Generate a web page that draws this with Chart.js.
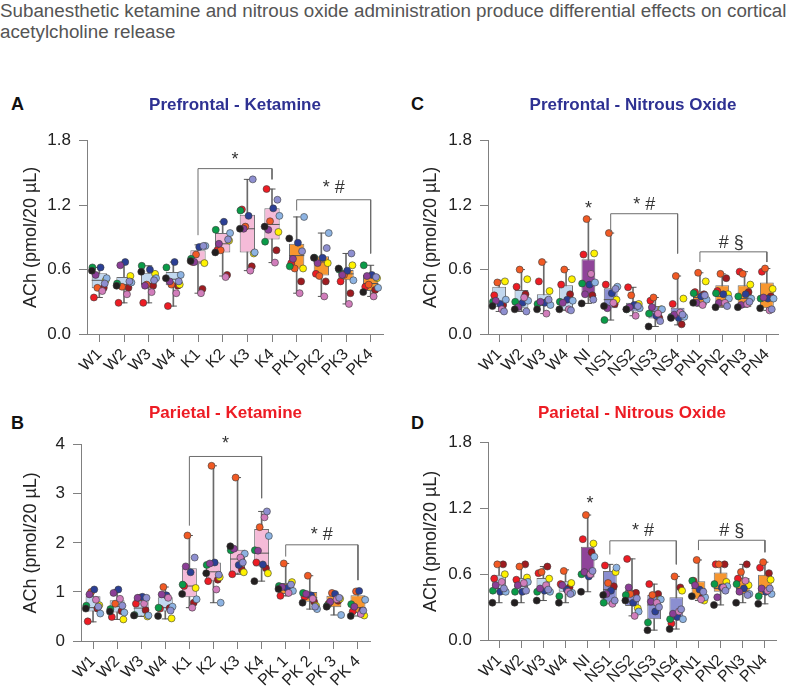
<!DOCTYPE html>
<html>
<head>
<meta charset="utf-8">
<script src="https://cdn.jsdelivr.net/npm/chart.js@4.4.0/dist/chart.umd.min.js"></script>
<style>
  body { margin: 0; background: #fff; width: 800px; height: 691px; position: relative; overflow: hidden; font-family: "Liberation Sans", Arial, sans-serif; }
  #heading { position: absolute; left: 0; top: 0; font-size: 18.8px; line-height: 21px; color: #555; white-space: nowrap; }
  .letter { position: absolute; font-weight: bold; font-size: 18px; color: #111; }
  canvas { position: absolute; }
</style>
</head>
<body>
<div id="heading">Subanesthetic ketamine and nitrous oxide administration produce differential effects on cortical<br>acetylcholine release</div>
<div class="letter" style="left:11px;top:94px">A</div>
<div class="letter" style="left:411px;top:94px">C</div>
<div class="letter" style="left:11px;top:413px">B</div>
<div class="letter" style="left:411px;top:413px">D</div>
<canvas id="chartA" width="400" height="310" style="left:0;top:80px"></canvas>
<canvas id="chartC" width="400" height="310" style="left:400px;top:80px"></canvas>
<canvas id="chartB" width="400" height="306" style="left:0;top:385px"></canvas>
<canvas id="chartD" width="400" height="306" style="left:400px;top:385px"></canvas>
<script>
// animals: red, dark red, orange, yellow, green, navy, light blue, purple, orchid, black, lavender
const animalColors = ['#ed1c24', '#9e1b20', '#f15a24', '#fff200', '#0a9b48', '#2b3f95', '#8db3e2', '#8b3e96', '#d17dbb', '#231f20', '#8e8fd0'];
const jitter = [-0.22, 0.18, -0.08, 0.26, -0.28, 0.05, 0.3, -0.15, 0.12, -0.3, 0.22];

const ketLabels = ['W1', 'W2', 'W3', 'W4', 'K1', 'K2', 'K3', 'K4', 'PK1', 'PK2', 'PK3', 'PK4'];
const ketLabelsB = ['W1', 'W2', 'W3', 'W4', 'K1', 'K2', 'K3', 'K4', 'PK 1', 'PK 2', 'PK 3', 'PK 4'];
const noxLabels = ['W1', 'W2', 'W3', 'W4', 'NI', 'NS1', 'NS2', 'NS3', 'NS4', 'PN1', 'PN2', 'PN3', 'PN4'];

// A - prefrontal ketamine
const pfkMin = [0.34, 0.29, 0.29, 0.26, 0.38, 0.54, 0.59, 0.665, 0.38, 0.35, 0.28, 0.35];
const pfkQ1  = [0.425, 0.435, 0.455, 0.455, 0.65, 0.76, 0.76, 0.88, 0.61, 0.545, 0.50, 0.40];
const pfkMed = [0.50, 0.46, 0.47, 0.51, 0.67, 0.84, 0.98, 1.02, 0.73, 0.67, 0.56, 0.47];
const pfkQ3  = [0.565, 0.53, 0.57, 0.577, 0.78, 0.94, 1.11, 1.17, 0.84, 0.725, 0.595, 0.55];
const pfkMax = [0.62, 0.67, 0.635, 0.67, 0.83, 1.045, 1.44, 1.35, 1.09, 0.94, 0.75, 0.64];
const pfkPts = [
  [0.34, 0.43, 0.43, 0.50, 0.62, 0.62, 0.52, 0.55, 0.40, 0.59, 0.47],
  [0.29, 0.43, 0.44, 0.54, 0.47, 0.67, 0.48, 0.64, 0.37, 0.45, 0.49],
  [0.29, 0.45, 0.46, 0.56, 0.635, 0.60, 0.52, 0.45, 0.39, 0.58, 0.50],
  [0.26, 0.45, 0.46, 0.46, 0.62, 0.67, 0.55, 0.49, 0.38, 0.52, 0.49],
  [0.67, 0.42, 0.74, 0.66, 0.70, 0.81, 0.82, 0.67, 0.38, 0.68, 0.82],
  [0.78, 0.55, 0.78, 0.87, 0.97, 1.045, 0.94, 0.84, 0.53, 0.76, 0.88],
  [1.16, 0.63, 1.00, 0.75, 1.15, 1.10, 0.76, 0.98, 0.59, 0.98, 1.44],
  [1.35, 0.78, 1.05, 0.95, 0.86, 1.17, 1.10, 0.97, 0.665, 1.00, 1.25],
  [0.66, 0.49, 0.61, 0.61, 0.63, 0.85, 1.09, 0.70, 0.38, 0.89, 0.77],
  [0.56, 0.49, 0.54, 0.66, 0.71, 0.71, 0.94, 0.66, 0.35, 0.71, 0.80],
  [0.49, 0.38, 0.55, 0.64, 0.60, 0.59, 0.50, 0.55, 0.28, 0.61, 0.75],
  [0.44, 0.41, 0.46, 0.52, 0.64, 0.55, 0.43, 0.54, 0.35, 0.39, 0.53]
];
const pfkBrackets = [[4, 7, 0.92, 1.54, 1.44], [8, 11, 1.15, 1.25, 0.75]];
const pfkNotes = [[5.5, 1.65, '*'], [9.5, 1.385, '* #']];

// C - prefrontal nitrous oxide
const pfnMin = [0.21, 0.21, 0.19, 0.22, 0.285, 0.13, 0.17, 0.07, 0.085, 0.26, 0.25, 0.25, 0.22];
const pfnQ1  = [0.25, 0.24, 0.26, 0.225, 0.37, 0.24, 0.21, 0.145, 0.145, 0.27, 0.25, 0.25, 0.24];
const pfnMed = [0.30, 0.30, 0.30, 0.30, 0.47, 0.32, 0.25, 0.21, 0.18, 0.34, 0.35, 0.33, 0.33];
const pfnQ3  = [0.44, 0.41, 0.37, 0.455, 0.695, 0.425, 0.29, 0.26, 0.245, 0.395, 0.455, 0.455, 0.48];
const pfnMax = [0.50, 0.60, 0.67, 0.60, 1.07, 0.94, 0.435, 0.34, 0.54, 0.57, 0.56, 0.58, 0.61];
const pfnPts = [
  [0.36, 0.27, 0.48, 0.49, 0.30, 0.28, 0.32, 0.31, 0.23, 0.26, 0.21],
  [0.44, 0.37, 0.60, 0.51, 0.30, 0.29, 0.31, 0.25, 0.34, 0.23, 0.21],
  [0.49, 0.31, 0.67, 0.40, 0.28, 0.29, 0.27, 0.30, 0.19, 0.23, 0.32],
  [0.46, 0.37, 0.60, 0.51, 0.30, 0.32, 0.31, 0.29, 0.23, 0.23, 0.22],
  [0.74, 0.36, 1.07, 0.75, 0.47, 0.46, 0.48, 0.37, 0.56, 0.285, 0.32],
  [0.46, 0.28, 0.94, 0.32, 0.13, 0.38, 0.44, 0.24, 0.29, 0.26, 0.42],
  [0.435, 0.27, 0.36, 0.28, 0.23, 0.27, 0.24, 0.25, 0.17, 0.23, 0.26],
  [0.31, 0.15, 0.34, 0.23, 0.19, 0.17, 0.23, 0.25, 0.19, 0.07, 0.12],
  [0.28, 0.09, 0.54, 0.33, 0.16, 0.15, 0.16, 0.18, 0.20, 0.15, 0.18],
  [0.39, 0.37, 0.57, 0.49, 0.38, 0.35, 0.32, 0.29, 0.27, 0.29, 0.36],
  [0.40, 0.52, 0.56, 0.37, 0.38, 0.37, 0.33, 0.29, 0.29, 0.25, 0.26],
  [0.58, 0.39, 0.56, 0.46, 0.35, 0.37, 0.33, 0.27, 0.28, 0.25, 0.30],
  [0.58, 0.35, 0.61, 0.42, 0.33, 0.33, 0.33, 0.34, 0.22, 0.24, 0.23]
];
const pfnBrackets = [[5, 8, 0.95, 1.12, 0.75], [9, 12, 0.67, 0.765, 0.67]];
const pfnNotes = [[4, 1.19, '*'], [6.5, 1.23, '* #'], [10.4, 0.875, '# §']];

// B - parietal ketamine
const pakMin = [0.39, 0.44, 0.50, 0.45, 0.68, 0.78, 1.36, 1.22, 0.92, 0.65, 0.53, 0.51];
const pakQ1  = [0.60, 0.58, 0.50, 0.60, 0.89, 1.22, 1.37, 1.52, 0.96, 0.80, 0.69, 0.57];
const pakMed = [0.68, 0.70, 0.67, 0.68, 1.12, 1.41, 1.67, 1.79, 1.06, 0.88, 0.80, 0.68];
const pakQ3  = [0.91, 0.83, 0.87, 0.89, 1.48, 1.60, 1.86, 2.28, 1.18, 1.00, 0.92, 0.93];
const pakMax = [1.05, 1.05, 0.91, 1.10, 2.15, 3.57, 3.33, 2.64, 1.58, 1.33, 0.99, 1.02];
const pakPts = [
  [0.40, 0.66, 1.00, 0.73, 0.72, 1.05, 0.56, 0.95, 0.84, 0.66, 0.70],
  [0.49, 0.61, 0.76, 0.44, 0.65, 1.05, 0.58, 0.98, 0.86, 0.60, 0.72],
  [0.76, 0.63, 0.88, 0.50, 0.53, 0.90, 0.52, 0.88, 0.76, 0.52, 0.88],
  [0.66, 0.67, 1.10, 0.46, 0.68, 0.93, 0.70, 0.95, 0.88, 0.51, 0.62],
  [1.12, 0.78, 2.15, 1.08, 1.15, 1.40, 0.85, 1.52, 0.68, 0.96, 1.70],
  [1.22, 1.25, 3.57, 1.30, 1.55, 1.60, 0.78, 1.58, 1.05, 1.38, 1.35],
  [1.36, 1.45, 3.33, 1.40, 1.85, 1.55, 1.78, 1.88, 1.70, 1.93, 1.60],
  [1.60, 1.48, 2.32, 1.38, 1.85, 1.56, 2.14, 1.84, 2.52, 1.22, 2.64],
  [0.92, 1.05, 1.58, 1.20, 1.12, 1.08, 1.02, 1.10, 0.98, 1.06, 1.15],
  [0.90, 0.80, 1.33, 0.72, 0.98, 0.93, 0.65, 0.96, 0.86, 0.78, 0.70],
  [0.76, 0.82, 0.98, 0.86, 0.72, 0.96, 0.53, 0.80, 0.85, 0.70, 0.88],
  [0.60, 0.62, 1.01, 0.52, 0.75, 1.02, 0.84, 0.70, 0.55, 0.51, 0.62]
];
const pakBrackets = [[4, 7, 2.35, 3.76, 2.91], [8, 11, 1.72, 1.96, 1.24]];
const pakNotes = [[5.5, 4.07, '*'], [9.5, 2.23, '* #']];

// D - parietal nitrous oxide
const panMin = [0.34, 0.34, 0.36, 0.34, 0.44, 0.33, 0.22, 0.09, 0.10, 0.36, 0.32, 0.34, 0.33];
const panQ1  = [0.44, 0.44, 0.44, 0.44, 0.57, 0.34, 0.31, 0.19, 0.18, 0.37, 0.44, 0.42, 0.41];
const panMed = [0.47, 0.49, 0.46, 0.48, 0.62, 0.46, 0.35, 0.32, 0.20, 0.47, 0.47, 0.47, 0.47];
const panQ3  = [0.595, 0.565, 0.565, 0.535, 0.85, 0.63, 0.457, 0.41, 0.39, 0.535, 0.615, 0.565, 0.595];
const panMax = [0.69, 0.69, 0.67, 0.64, 1.14, 0.69, 0.74, 0.51, 0.58, 0.73, 0.69, 0.69, 0.71];
const panPts = [
  [0.56, 0.69, 0.69, 0.60, 0.45, 0.44, 0.44, 0.50, 0.53, 0.34, 0.47],
  [0.55, 0.69, 0.67, 0.57, 0.44, 0.44, 0.53, 0.50, 0.52, 0.34, 0.45],
  [0.61, 0.67, 0.62, 0.56, 0.44, 0.45, 0.44, 0.47, 0.50, 0.36, 0.46],
  [0.51, 0.48, 0.63, 0.52, 0.40, 0.46, 0.43, 0.50, 0.44, 0.34, 0.42],
  [0.92, 0.80, 1.14, 0.88, 0.60, 0.58, 0.76, 0.62, 0.60, 0.44, 0.63],
  [0.68, 0.49, 0.52, 0.62, 0.34, 0.45, 0.66, 0.42, 0.33, 0.41, 0.36],
  [0.74, 0.43, 0.42, 0.29, 0.41, 0.34, 0.26, 0.48, 0.22, 0.36, 0.38],
  [0.51, 0.42, 0.41, 0.37, 0.16, 0.26, 0.37, 0.35, 0.34, 0.09, 0.30],
  [0.15, 0.48, 0.58, 0.45, 0.19, 0.21, 0.19, 0.24, 0.26, 0.10, 0.28],
  [0.54, 0.39, 0.73, 0.36, 0.54, 0.46, 0.39, 0.50, 0.37, 0.40, 0.44],
  [0.69, 0.69, 0.69, 0.53, 0.51, 0.48, 0.49, 0.39, 0.48, 0.32, 0.45],
  [0.56, 0.69, 0.62, 0.50, 0.51, 0.47, 0.42, 0.44, 0.54, 0.34, 0.41],
  [0.66, 0.61, 0.71, 0.55, 0.40, 0.44, 0.42, 0.47, 0.45, 0.33, 0.47]
];
const panBrackets = [[5, 8, 0.78, 0.905, 0.69], [9, 12, 0.82, 0.91, 0.80]];
const panNotes = [[4.1, 1.27, '*'], [6.5, 1.02, '* #'], [10.5, 1.02, '# §']];

const family = '"Liberation Sans", Arial, Helvetica, sans-serif';
Chart.defaults.font.family = family;

function boxColor(label) {
  if (label.startsWith('W')) return '#c2d8ef';
  if (label.startsWith('PK') || label.startsWith('PN')) return '#f7962f';
  if (label.startsWith('K')) return '#f5bbd8';
  if (label === 'NI') return '#8f4499';
  return '#8b8fd1';
}

// significance marks, placed in data units
const notesPlugin = {
  id: 'notes',
  afterDatasetsDraw(chart, args, opts) {
    const ctx = chart.ctx;
    const xs = chart.scales.xj, ys = chart.scales.y;
    ctx.save();
    ctx.font = '18px ' + family;
    ctx.fillStyle = '#333';
    ctx.textAlign = 'center';
    ctx.textBaseline = 'middle';
    opts.items.forEach(function(n) {
      ctx.fillText(n[2], xs.getPixelForValue(n[0]), ys.getPixelForValue(n[1]) + 3);
    });
    ctx.restore();
  }
};

function drawPanel(id, labels, mins, q1s, meds, q3s, maxs, pts, brackets, notes, opt) {
  const n = labels.length;
  const points = [];
  const pointColors = [];
  pts.forEach(function(vals, i) {
    vals.forEach(function(v, j) {
      points.push({x: i + jitter[j], y: v});
      pointColors.push(animalColors[j]);
    });
  });
  const halfBox = function(c) {
    const area = c.chart.chartArea;
    return area && area.width ? area.width / n * 0.31 : 7;
  };

  const datasets = [
    {type: 'bar', data: labels.map(function(l, i) { return [mins[i], maxs[i]]; }),
      backgroundColor: '#6a6a6a', barThickness: 1, grouped: false, order: 6},
    {type: 'bar', data: labels.map(function(l, i) { return [q1s[i], q3s[i]]; }),
      backgroundColor: labels.map(boxColor), borderColor: '#6d6e71', borderWidth: 1, borderSkipped: false,
      barPercentage: 0.62, categoryPercentage: 1, grouped: false, order: 5},
    {type: 'line', data: meds, showLine: false, pointStyle: 'line', pointRadius: halfBox,
      pointBorderColor: '#555', pointBorderWidth: 1, order: 4},
    {type: 'line', data: mins, showLine: false, pointStyle: 'line', pointRadius: 3.5,
      pointBorderColor: '#555', pointBorderWidth: 1, order: 3},
    {type: 'line', data: maxs, showLine: false, pointStyle: 'line', pointRadius: 3.5,
      pointBorderColor: '#555', pointBorderWidth: 1, order: 3},
    {type: 'scatter', xAxisID: 'xj', data: points, pointRadius: 3.5, pointBackgroundColor: pointColors,
      pointBorderColor: '#3a3a3a', pointBorderWidth: 0.6, order: 2}
  ];
  brackets.forEach(function(b) {
    datasets.push({type: 'line', xAxisID: 'xj',
      data: [{x: b[0], y: b[2]}, {x: b[0], y: b[3]}, {x: b[1], y: b[3]}, {x: b[1], y: b[4]}],
      borderColor: '#6d6d6d', borderWidth: 1, pointRadius: 0, fill: false, order: 1});
  });

  new Chart(document.getElementById(id), {
    type: 'bar',
    data: {labels: labels, datasets: datasets},
    plugins: [notesPlugin],
    options: {
      responsive: false,
      animation: false,
      devicePixelRatio: 1,
      events: [],
      layout: {padding: {left: 0, right: opt.padRight, top: 0, bottom: 0}},
      scales: {
        x: {
          type: 'category', offset: true,
          border: {color: '#808080'},
          grid: {drawOnChartArea: false, drawTicks: true, tickLength: 8, color: '#808080', offset: false},
          ticks: {autoSkip: false, maxRotation: 45, minRotation: 45, padding: 3, color: '#222', font: {size: 16}},
          afterFit: function(s) { s.height = opt.xHeight; }
        },
        xj: {type: 'linear', display: false, offset: false, grid: {offset: false}, min: -0.5, max: n - 0.5},
        y: {
          min: 0, max: opt.yMax,
          border: {color: '#808080'},
          grid: {drawOnChartArea: false, tickLength: 8, color: '#808080'},
          ticks: {stepSize: opt.yStep, padding: 8, color: '#222', font: {size: 17},
            callback: function(v) { return v.toFixed(opt.dec); }},
          title: {display: true, text: 'ACh (pmol/20 µL)', color: '#222', font: {size: 18}, padding: {top: 20, bottom: 0}},
          afterFit: function(s) { s.width = opt.yWidth; }
        }
      },
      plugins: {
        legend: {display: false},
        tooltip: {enabled: false},
        title: {display: true, fullSize: false, text: opt.title, color: opt.titleColor,
          font: {size: 17, weight: 'bold', lineHeight: 1.1}, padding: {top: opt.tTop, bottom: opt.tBottom}},
        notes: {items: notes}
      }
    }
  });
}

drawPanel('chartA', ketLabels, pfkMin, pfkQ1, pfkMed, pfkQ3, pfkMax, pfkPts, pfkBrackets, pfkNotes,
  {title: 'Prefrontal - Ketamine', titleColor: '#2e3192', yMax: 1.8, yStep: 0.6, dec: 1,
   yWidth: 87, xHeight: 56, padRight: 17, tTop: 16, tBottom: 26});
drawPanel('chartC', noxLabels, pfnMin, pfnQ1, pfnMed, pfnQ3, pfnMax, pfnPts, pfnBrackets, pfnNotes,
  {title: 'Prefrontal - Nitrous Oxide', titleColor: '#2e3192', yMax: 1.8, yStep: 0.6, dec: 1,
   yWidth: 88, xHeight: 56, padRight: 22, tTop: 16, tBottom: 26});
drawPanel('chartB', ketLabelsB, pakMin, pakQ1, pakMed, pakQ3, pakMax, pakPts, pakBrackets, pakNotes,
  {title: 'Parietal - Ketamine', titleColor: '#ed1c24', yMax: 4, yStep: 1, dec: 0,
   yWidth: 81, xHeight: 50, padRight: 30, tTop: 19, tBottom: 22});
drawPanel('chartD', noxLabels, panMin, panQ1, panMed, panQ3, panMax, panPts, panBrackets, panNotes,
  {title: 'Parietal - Nitrous Oxide', titleColor: '#ed1c24', yMax: 1.8, yStep: 0.6, dec: 1,
   yWidth: 88, xHeight: 51, padRight: 24, tTop: 19, tBottom: 20});
</script>
</body>
</html>
